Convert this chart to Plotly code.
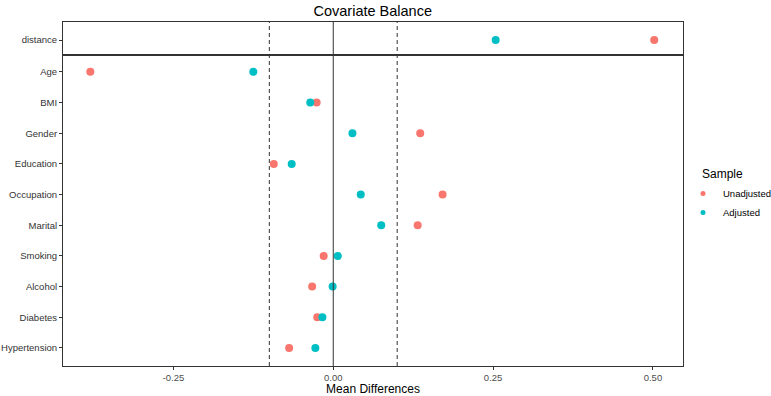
import plotly.graph_objects as go
from plotly.subplots import make_subplots

covariates = ["Age", "BMI", "Gender", "Education", "Occupation", "Marital",
              "Smoking", "Alcohol", "Diabetes", "Hypertension"]
unadjusted = [-0.380, -0.026, 0.136, -0.093, 0.171, 0.132, -0.015, -0.033, -0.025, -0.069]
adjusted = [-0.125, -0.036, 0.030, -0.065, 0.043, 0.075, 0.007, -0.001, -0.017, -0.028]
distance_label = ["distance"]
distance_unadjusted = [0.502]
distance_adjusted = [0.254]
thresholds = [-0.1, 0.1]
x_ticks = [-0.25, 0.0, 0.25, 0.50]
x_ticktext = ["-0.25", "0.00", "0.25", "0.50"]

RED = "#F8766D"
TEAL = "#00BFC4"
FONT = "Liberation Sans, Arial, sans-serif"

fig = make_subplots(rows=2, cols=1, shared_xaxes=True, vertical_spacing=0,
                    row_heights=[33 / 344, 311 / 344])

fig.add_trace(go.Scatter(x=distance_unadjusted, y=distance_label, mode="markers",
                         marker=dict(color=RED, size=8), name="Unadjusted",
                         showlegend=False), row=1, col=1)
fig.add_trace(go.Scatter(x=distance_adjusted, y=distance_label, mode="markers",
                         marker=dict(color=TEAL, size=8), name="Adjusted",
                         showlegend=False), row=1, col=1)
fig.add_trace(go.Scatter(x=unadjusted, y=covariates, mode="markers",
                         marker=dict(color=RED, size=8), name="Unadjusted",
                         showlegend=False), row=2, col=1)
fig.add_trace(go.Scatter(x=adjusted, y=covariates, mode="markers",
                         marker=dict(color=TEAL, size=8), name="Adjusted",
                         showlegend=False), row=2, col=1)
# legend-only entries with smaller keys
fig.add_trace(go.Scatter(x=[None], y=[None], mode="markers",
                         marker=dict(color=RED, size=5), name="Unadjusted"), row=2, col=1)
fig.add_trace(go.Scatter(x=[None], y=[None], mode="markers",
                         marker=dict(color=TEAL, size=5), name="Adjusted"), row=2, col=1)

xr = [-0.4227, 0.547]
axis_common = dict(showgrid=False, zeroline=False, showline=True, linecolor="#333333",
                   linewidth=1, mirror=True, automargin=False)
fig.update_xaxes(range=xr, **axis_common)
fig.update_xaxes(tickvals=x_ticks, ticktext=x_ticktext, ticks="outside", ticklen=3,
                 tickcolor="#333333", tickfont=dict(size=9.5, color="#4d4d4d", family=FONT),
                 title=dict(text="Mean Differences", font=dict(size=12, color="black", family=FONT),
                            standoff=2), row=2, col=1)
fig.update_xaxes(showticklabels=False, ticks="", row=1, col=1)

fig.update_yaxes(ticks="outside", ticklen=3, tickcolor="#333333",
                 tickfont=dict(size=9.5, color="#333333", family=FONT), **axis_common)
fig.update_yaxes(type="category", categoryarray=distance_label, range=[-0.5, 0.6], row=1, col=1)
fig.update_yaxes(type="category", categoryarray=covariates[::-1], range=[-0.59, 9.55], row=2, col=1)

for t in thresholds:
    fig.add_shape(type="line", xref="x2", yref="paper", x0=t, x1=t, y0=0, y1=1,
                  line=dict(color="#333333", width=1, dash="4px,3px"))
fig.add_shape(type="line", xref="x2", yref="paper", x0=0, x1=0, y0=0, y1=1,
              line=dict(color="#333333", width=1))

fig.add_annotation(text="Sample", xref="paper", yref="paper",
                   x=(700 - 62.5) / (683 - 62.5), xanchor="left",
                   y=(366 - 174) / 344, yanchor="middle", showarrow=False,
                   font=dict(size=12, color="black", family=FONT))

fig.update_layout(
    width=771, height=396,
    margin=dict(l=62.5, r=88, t=22, b=30, autoexpand=False),
    paper_bgcolor="white", plot_bgcolor="white",
    font=dict(family=FONT, color="black"),
    title=dict(text="Covariate Balance", x=(62.5 + 683) / 2 / 771, xanchor="center",
               y=1 - 11 / 396, yanchor="middle", font=dict(size=14.5, color="black", family=FONT)),
    legend=dict(xref="container", yref="container",
                x=683 / 771, xanchor="left", y=1 - 203 / 396, yanchor="middle",
                font=dict(size=9.5, family=FONT), itemsizing="trace", itemwidth=30,
                tracegroupgap=0, bgcolor="rgba(0,0,0,0)"),
)

fig.write_html("out.html")
